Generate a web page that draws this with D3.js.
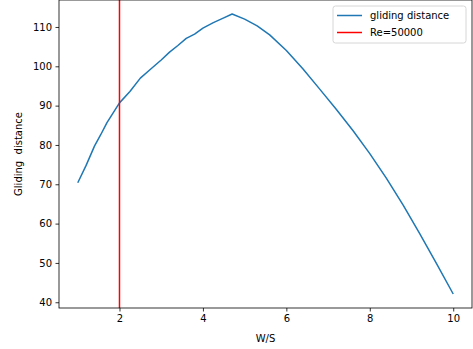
<!DOCTYPE html>
<html>
<head>
<meta charset="utf-8">
<script src="https://cdn.jsdelivr.net/npm/d3@7"></script>
<style>
  body { margin: 0; background: #fff; }
  text { font-family: "DejaVu Sans", sans-serif; }
</style>
</head>
<body>
<script>
// Data
var ws = [1.0, 1.2, 1.4, 1.55, 1.7, 2.0, 2.25, 2.5, 2.75, 3.0, 3.2, 3.4, 3.6, 3.8, 4.0,
          4.25, 4.5, 4.7, 5.0, 5.3, 5.6, 6.0, 6.4, 6.8, 7.2, 7.6, 8.0, 8.4, 8.8,
          9.2, 9.6, 10.0];
var dist = [70.4, 74.8, 79.7, 82.6, 85.7, 90.7, 93.6, 97.0, 99.3, 101.6, 103.6, 105.3, 107.1, 108.2, 109.7,
            111.1, 112.3, 113.3, 112.0, 110.3, 108.0, 104.0, 99.3, 94.2, 89.0, 83.6, 77.8, 71.5, 64.7,
            57.4, 49.8, 42.1];
var reLine = 2;
var xTicks = [2, 4, 6, 8, 10];
var yTicks = [40, 50, 60, 70, 80, 90, 100, 110];
var legendLabels = ["gliding distance", "Re=50000"];

var data = ws.map(function(d, i) { return {x: d, y: dist[i]}; });

// Dimensions
var margin = {top: 0, right: 1, bottom: 41, left: 59},
    width = 473 - margin.left - margin.right,
    height = 349 - margin.top - margin.bottom;

// Scales with matplotlib-like 5% padding
var xr = d3.extent(ws), yr = d3.extent(dist);
var xp = (xr[1] - xr[0]) * 0.05, yp = (yr[1] - yr[0]) * 0.05;
var x = d3.scaleLinear().domain([xr[0] - xp, xr[1] + xp]).range([0, width]);
var y = d3.scaleLinear().domain([yr[0] - yp, yr[1] + yp]).range([height, 0]);

var line = d3.line()
    .x(function(d) { return x(d.x); })
    .y(function(d) { return y(d.y); });

var svg = d3.select("body").append("svg")
    .attr("width", 473)
    .attr("height", 349)
  .append("g")
    .attr("transform", "translate(" + margin.left + "," + margin.top + ")");

// Curve
svg.append("path")
    .datum(data)
    .attr("fill", "none")
    .attr("stroke", "#1f77b4")
    .attr("stroke-width", 1.5)
    .attr("stroke-linejoin", "round")
    .attr("d", line);

// Vertical line at Re=50000
svg.append("line")
    .attr("x1", x(reLine)).attr("x2", x(reLine))
    .attr("y1", 0).attr("y2", height)
    .attr("stroke", "red")
    .attr("stroke-width", 1.5);

// X axis
var xAxis = svg.append("g")
    .attr("transform", "translate(0," + height + ")")
    .call(d3.axisBottom(x).tickValues(xTicks).tickSize(3.5).tickPadding(3.5).tickSizeOuter(0));

// Y axis
var yAxis = svg.append("g")
    .call(d3.axisLeft(y).tickValues(yTicks).tickSize(3.5).tickPadding(3.5).tickSizeOuter(0));

[xAxis, yAxis].forEach(function(a) {
  a.select(".domain").remove();
  a.selectAll(".tick line").attr("stroke", "#000").attr("stroke-width", 0.8);
  a.selectAll("text").attr("fill", "#000").style("font-size", "10px")
    .style("font-family", "'DejaVu Sans', sans-serif");
});

// Frame
svg.append("rect")
    .attr("x", 0).attr("y", 0)
    .attr("width", width).attr("height", height)
    .attr("fill", "none")
    .attr("stroke", "#000")
    .attr("stroke-width", 0.8);

// Axis labels
svg.append("text")
    .attr("x", width / 2)
    .attr("y", height + 34)
    .attr("text-anchor", "middle")
    .style("font-size", "10px")
    .text("W/S");

svg.append("text")
    .attr("transform", "translate(" + (-37) + "," + (height / 2) + ") rotate(-90)")
    .attr("text-anchor", "middle")
    .style("font-size", "10px")
    .style("white-space", "pre")
    .text("Gliding  distance");

// Legend
var legend = svg.append("g")
    .attr("transform", "translate(" + (width - 139) + ",6)");

legend.append("rect")
    .attr("width", 133).attr("height", 37)
    .attr("rx", 2.5)
    .attr("fill", "#fff").attr("fill-opacity", 0.8)
    .attr("stroke", "#cccccc").attr("stroke-width", 0.8);

var colors = ["#1f77b4", "red"];
legendLabels.forEach(function(lbl, i) {
  var gy = 9.5 + i * 17;
  legend.append("line")
      .attr("x1", 4).attr("x2", 29)
      .attr("y1", gy).attr("y2", gy)
      .attr("stroke", colors[i]).attr("stroke-width", 1.5);
  legend.append("text")
      .attr("x", 37).attr("y", gy + 3.5)
      .style("font-size", "10px")
      .text(lbl);
});
</script>
</body>
</html>
